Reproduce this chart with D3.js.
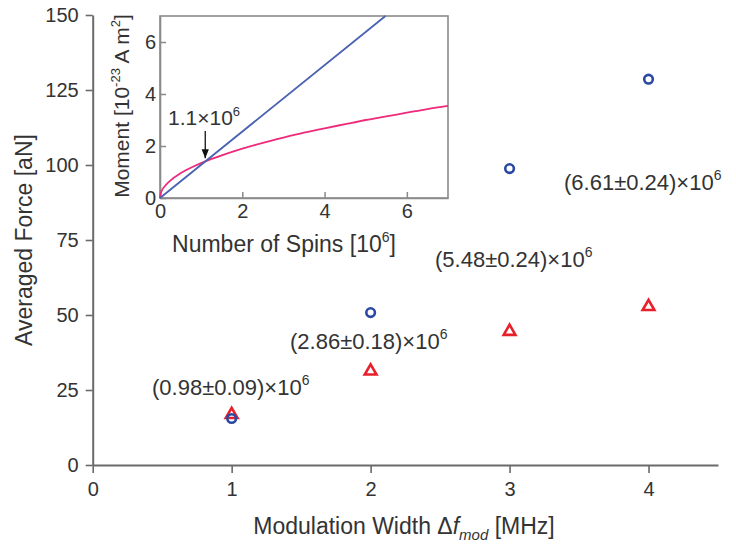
<!DOCTYPE html>
<html><head><meta charset="utf-8">
<script src="https://cdn.jsdelivr.net/npm/d3@7"></script>
<style>body{margin:0;background:#fff}svg{display:block}text{font-family:"Liberation Sans",Arial,sans-serif;fill:#333}</style>
</head><body>
<svg id="c" width="736" height="546"></svg>
<script>
// ---- data ----
const widths = [1, 2, 3, 4];                       // modulation width (MHz)
const forceCircles = [15.5, 50.8, 98.8, 128.6];     // blue circles (aN)
const forceTriangles = [16.8, 31.3, 44.5, 52.8];    // red triangles (aN)
const spinLabels = ["(0.98\u00b10.09)\u00d710", "(2.86\u00b10.18)\u00d710", "(5.48\u00b10.24)\u00d710", "(6.61\u00b10.24)\u00d710"];
const yTicks = [0, 25, 50, 75, 100, 125, 150];
const xTicks = [0, 1, 2, 3, 4];
// inset
const insetTicks = [0, 2, 4, 6];
const linearSpins = [0, 5.48];          // blue line x (10^6 spins)
const linearMoment = [0, 7];            // blue line y
const sqrtSpins =  [0, 0.02, 0.06, 0.12, 0.25, 0.5, 0.8, 1.1, 1.5, 2, 2.5, 3, 3.5, 4, 4.5, 5, 5.5, 6, 6.5, 7];
const sqrtMoment = [0, 0.19, 0.33, 0.46, 0.67, 0.95, 1.2, 1.41, 1.64, 1.9, 2.12, 2.32, 2.51, 2.68, 2.84, 3.0, 3.14, 3.28, 3.42, 3.54];
const crossLabel = "1.1\u00d710";

const svg = d3.select("#c");
const AX = "#6a6a6a";
const FF = '"Liberation Sans",Arial,sans-serif';

// ---- main axes ----
const x = d3.scaleLinear().domain([0, 4.5]).range([92.7, 718]);
const y = d3.scaleLinear().domain([0, 150]).range([465, 15]);

const gy = svg.append("g").attr("transform", `translate(${x(0)},0)`)
  .call(d3.axisLeft(y).tickValues(yTicks).tickFormat(d3.format("d")).tickSize(7).tickPadding(7).tickSizeOuter(0));
const gx = svg.append("g").attr("transform", `translate(0,${y(0)})`)
  .call(d3.axisBottom(x).tickValues(xTicks).tickFormat(d3.format("d")).tickSize(8).tickPadding(9).tickSizeOuter(0));
[gx, gy].forEach(g => {
  g.select(".domain").attr("stroke", AX).attr("stroke-width", 2);
  g.selectAll(".tick line").attr("stroke", AX).attr("stroke-width", 1.6);
  g.selectAll(".tick text").attr("font-size", 20).attr("fill", "#333").style("font-family", FF);
});

// axis titles
const xt = svg.append("text").attr("x", 404).attr("y", 534).attr("text-anchor", "middle").attr("font-size", 23);
xt.append("tspan").text("Modulation Width \u0394");
xt.append("tspan").attr("font-style", "italic").text("f");
xt.append("tspan").attr("font-style", "italic").attr("font-size", 15).attr("dy", 6).text("mod");
xt.append("tspan").attr("dy", -6).text(" [MHz]");

svg.append("text").attr("transform", "translate(32,240) rotate(-90)").attr("text-anchor", "middle")
  .attr("font-size", 23).text("Averaged Force [aN]");

// ---- annotations ----
const labelPos = [[152, 395], [290, 349], [435, 267], [564, 190]];
spinLabels.forEach((s, i) => {
  const t = svg.append("text").attr("x", labelPos[i][0]).attr("y", labelPos[i][1]).attr("font-size", 22);
  t.append("tspan").text(s);
  t.append("tspan").attr("font-size", 14).attr("dy", -10).text("6");
});

// ---- data markers ----
const tri = d3.symbol().type(d3.symbolTriangle).size(60);
svg.append("g").selectAll("path").data(widths).join("path")
  .attr("d", tri)
  .attr("transform", (d, i) => `translate(${x(d)},${y(forceTriangles[i])})`)
  .attr("fill", "none").attr("stroke", "#e8202a").attr("stroke-width", 2.6);
svg.append("g").selectAll("circle").data(widths).join("circle")
  .attr("cx", d => x(d)).attr("cy", (d, i) => y(forceCircles[i])).attr("r", 4.3)
  .attr("fill", "none").attr("stroke", "#2a48a4").attr("stroke-width", 2.6);

// ---- inset ----
const ix = d3.scaleLinear().domain([0, 7]).range([160, 448]);
const iy = d3.scaleLinear().domain([0, 7]).range([198, 16]);
const IG = "#8a8a8a";
svg.append("rect").attr("x", ix(0)).attr("y", iy(7)).attr("width", ix(7) - ix(0)).attr("height", iy(0) - iy(7))
  .attr("fill", "#fff").attr("stroke", IG).attr("stroke-width", 1.6);

const giy = svg.append("g").attr("transform", `translate(${ix(0)},0)`)
  .call(d3.axisLeft(iy).tickValues(insetTicks).tickFormat(d3.format("d")).tickSize(-6).tickPadding(4).tickSizeOuter(0));
const gix = svg.append("g").attr("transform", `translate(0,${iy(0)})`)
  .call(d3.axisBottom(ix).tickValues(insetTicks).tickFormat(d3.format("d")).tickSize(-6).tickPadding(6).tickSizeOuter(0));
[gix, giy].forEach(g => {
  g.select(".domain").attr("stroke", IG).attr("stroke-width", 1.6);
  g.selectAll(".tick line").attr("stroke", IG).attr("stroke-width", 1.5);
  g.selectAll(".tick text").attr("font-size", 20).attr("fill", "#333").style("font-family", FF);
});

const line = d3.line().x(d => ix(d[0])).y(d => iy(d[1]));
svg.append("path").datum(sqrtSpins.map((v, i) => [v, sqrtMoment[i]]))
  .attr("d", line.curve(d3.curveMonotoneX)).attr("fill", "none").attr("stroke", "#ee2a7b").attr("stroke-width", 1.8);
svg.append("path").datum(linearSpins.map((v, i) => [v, linearMoment[i]]))
  .attr("d", d3.line().x(d => ix(d[0])).y(d => iy(d[1]))).attr("fill", "none").attr("stroke", "#4a62b0").attr("stroke-width", 1.8);

// inset titles
const it = svg.append("text").attr("x", 284).attr("y", 252).attr("text-anchor", "middle").attr("font-size", 23);
it.append("tspan").text("Number of Spins [10");
it.append("tspan").attr("font-size", 14).attr("dy", -10).text("6");
it.append("tspan").attr("dy", 10).text("]");

const iyt = svg.append("text").attr("transform", "translate(129,106) rotate(-90)").attr("text-anchor", "middle").attr("font-size", 21);
iyt.append("tspan").text("Moment [10");
iyt.append("tspan").attr("font-size", 13).attr("dy", -9).text("-23");
iyt.append("tspan").attr("dy", 9).text(" A m");
iyt.append("tspan").attr("font-size", 13).attr("dy", -9).text("2");
iyt.append("tspan").attr("dy", 9).text("]");

// crossing annotation
const cl = svg.append("text").attr("x", 168).attr("y", 125).attr("font-size", 21);
cl.append("tspan").text(crossLabel);
cl.append("tspan").attr("font-size", 13).attr("dy", -9).text("6");
const crossX = 1.1, crossY = 1.41;
svg.append("defs").append("marker").attr("id", "ah").attr("viewBox", "0 0 10 10").attr("refX", 10).attr("refY", 5)
  .attr("markerWidth", 7).attr("markerHeight", 7).attr("orient", "auto")
  .append("path").attr("d", "M0,1 L10,5 L0,9 Z").attr("fill", "#111");
svg.append("line").attr("x1", ix(crossX)).attr("x2", ix(crossX)).attr("y1", 131).attr("y2", iy(crossY) - 3)
  .attr("stroke", "#111").attr("stroke-width", 1.3).attr("marker-end", "url(#ah)");
</script>
</body></html>
